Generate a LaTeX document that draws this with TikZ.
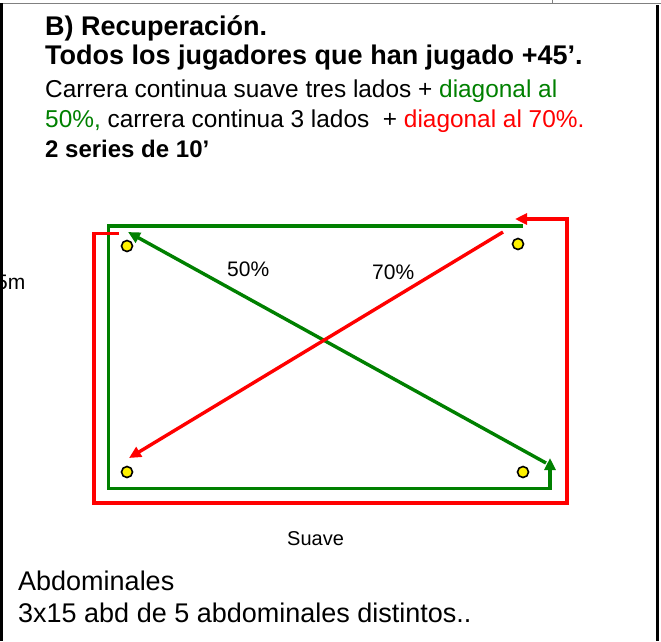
\documentclass[tikz,border=0pt]{standalone}
\usepackage{fontspec}
\setmainfont{Liberation Sans}
\usetikzlibrary{arrows.meta}
\definecolor{fieldgreen}{RGB}{0,128,0}
\definecolor{fieldred}{RGB}{255,0,0}
\definecolor{framegray}{HTML}{808080}

\begin{document}
\begin{tikzpicture}[x=1pt,y=-1pt,
    txt/.style={anchor=base west,inner sep=0pt},
    cone/.style={circle,draw=black,fill=yellow,line width=1.6pt,minimum size=11pt,inner sep=0pt},
    run/.style={line width=3.4pt,-{Triangle[length=12pt,width=11pt]}}]
  \useasboundingbox (0,0) rectangle (661,641);
  \clip (0,0) rectangle (661,641);
  % page frame
  \draw[framegray,line width=0.8pt] (0,3) -- (661,3);
  \draw[framegray,line width=0.8pt] (552,0) -- (552,3);
  \draw[line width=3pt] (1.5,3) -- (1.5,641);
  \draw[line width=3pt] (657,5) -- (657,641);
  % heading
  \node[txt,font=\fontsize{27}{30}\selectfont\bfseries] (title) at (45,35) {B) Recuperación.};
  \node[txt,font=\fontsize{27}{30}\selectfont\bfseries] (who) at (45,64) {Todos los jugadores que han jugado +45’.};
  \node[txt,font=\fontsize{24.4}{28}\selectfont] (task1) at (45,97) {Carrera continua suave tres lados + \textcolor{fieldgreen}{diagonal al}};
  \node[txt,font=\fontsize{24.4}{28}\selectfont] (task2) at (45,127) {\textcolor{fieldgreen}{50\%,} carrera continua 3 lados \ + \textcolor{fieldred}{diagonal al 70\%.}};
  \node[txt,font=\fontsize{24}{28}\selectfont\bfseries] (sets) at (45,157) {2 series de 10’};
  % field
  \node[txt,font=\fontsize{21}{24}\selectfont] (side) at (-4,289) {5m};
  \node[cone] (cTL) at (127,246) {};
  \node[cone] (cTR) at (518,244) {};
  \node[cone] (cBL) at (127,472) {};
  \node[cone] (cBR) at (523,472) {};
  \coordinate (gFrom) at (546,463);
  \coordinate (gTo) at (128,232);
  \coordinate (rFrom) at (503,232);
  \coordinate (rTo) at (129,458);
  % green: three sides + diagonal at 50%
  \draw[run,fieldgreen] (523,226) -- (108.5,226) -- (108.5,488.5) -- (550,488.5) -- (550,458);
  \draw[run,fieldgreen] (gFrom) -- (gTo);
  % red: three sides + diagonal at 70%
  \draw[run,fieldred] (119,233.5) -- (94,233.5) -- (94,503) -- (567,503) -- (567,219) -- (515,219);
  \draw[run,fieldred] (rFrom) -- (rTo);
  \node[txt,font=\fontsize{21}{24}\selectfont] (pct50) at (227,276) {50\%};
  \node[txt,font=\fontsize{21}{24}\selectfont] (pct70) at (372,279) {70\%};
  \node[txt,font=\fontsize{20}{24}\selectfont] (soft) at (287,545) {Suave};
  % core work
  \node[txt,font=\fontsize{27}{30}\selectfont] (abs) at (18,590) {Abdominales};
  \node[txt,font=\fontsize{27}{30}\selectfont] (abssets) at (18,622) {3x15 abd de 5 abdominales distintos..};
\end{tikzpicture}
\end{document}
